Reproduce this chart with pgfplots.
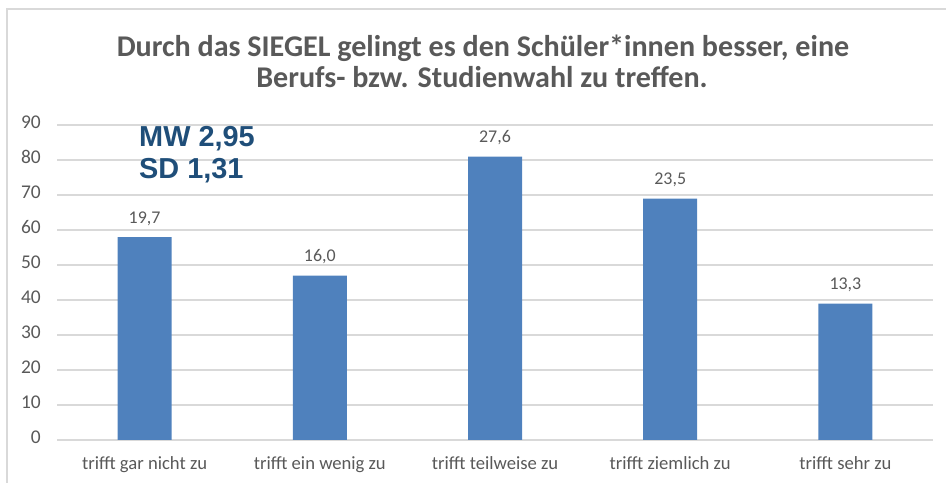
\documentclass[border=0pt]{standalone}
\usepackage{pgfplots}
\pgfplotsset{compat=1.18}
\usepackage{pgfplotstable}
\usepackage{fontspec}
\setmainfont{Carlito}
\newfontfamily\arialfont{Liberation Sans}
\definecolor{barblue}{RGB}{79,129,189}
\definecolor{txtgrey}{RGB}{89,89,89}
\definecolor{gridgrey}{RGB}{217,217,217}
\definecolor{mwblue}{RGB}{31,78,121}
\pgfplotstableread{
x y label
0 58 19,7
1 47 16,0
2 81 27,6
3 69 23,5
4 39 13,3
}\datatable
\begin{document}
\begin{tikzpicture}
\path[use as bounding box] (0bp,0bp) rectangle (946bp,483bp);
\draw[gridgrey, line width=1.5bp] (7bp,0bp) -- (7bp,474bp) -- (946bp,474bp);
\node[font=\fontsize{30.2}{34}\selectfont\bfseries, text=txtgrey, anchor=base, inner sep=0pt] at (483bp,426bp) {Durch das SIEGEL gelingt es den Schüler*innen besser, eine};
\node[font=\fontsize{30.2}{34}\selectfont\bfseries, text=txtgrey, anchor=base, inner sep=0pt] at (482bp,395bp) {Berufs- bzw. Studienwahl zu treffen.};
\begin{axis}[
  at={(57bp,43bp)}, anchor=south west,
  scale only axis, width=876bp, height=315bp,
  xmin=-0.5, xmax=4.5, ymin=0, ymax=90,
  ytick={0,10,...,90},
  xtick={0,1,2,3,4},
  xticklabels={trifft gar nicht zu, trifft ein wenig zu, trifft teilweise zu, trifft ziemlich zu, trifft sehr zu},
  ymajorgrids, grid style={gridgrey, line width=1.3bp},
  axis line style={draw=none},
  major tick length=0pt,
  /pgf/number format/assume math mode=true,
  yticklabel style={font=\fontsize{19.5}{22}\selectfont, text=txtgrey, anchor=base east, inner sep=0pt, xshift=-16bp, yshift=-3.8bp},
  xticklabel style={font=\fontsize{18.7}{22}\selectfont, text=txtgrey, anchor=base, inner sep=0pt, yshift=-30bp},
  ybar, bar width=54bp,
  nodes near coords,
  point meta=explicit symbolic,
  nodes near coords style={font=\fontsize{18}{21}\selectfont, text=txtgrey, anchor=base, inner sep=0pt, yshift=14bp},
  clip=false,
]
\addplot[fill=barblue, draw=none] table[x=x, y=y, meta=label] {\datatable};
\end{axis}
\node[font=\arialfont\fontsize{29}{32}\selectfont\bfseries, text=mwblue, anchor=base west, inner sep=0pt] at (139bp,336.5bp) {MW 2,95};
\node[font=\arialfont\fontsize{29}{32}\selectfont\bfseries, text=mwblue, anchor=base west, inner sep=0pt] at (139bp,304bp) {SD 1,31};
\end{tikzpicture}
\end{document}
